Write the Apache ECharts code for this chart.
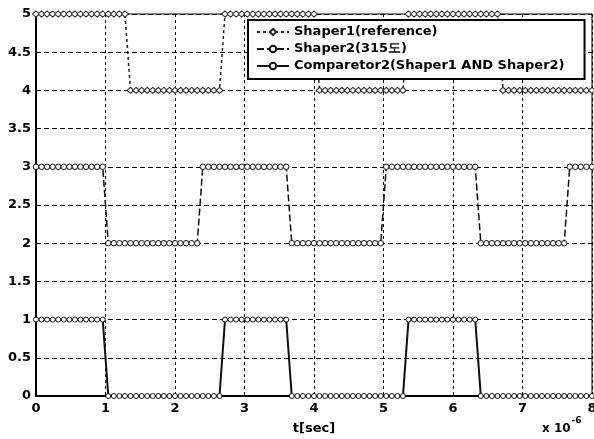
<!DOCTYPE html>
<html>
<head>
<meta charset="utf-8">
<script src="https://cdn.jsdelivr.net/npm/echarts@6/dist/echarts.min.js"></script>
<style>html,body{margin:0;padding:0;background:#fff;}#c{width:594px;height:439px;}</style>
</head>
<body>
<div id="c"></div>
<script>
// sample times (x 10^-6 sec)
const t = [
  0,0.08,0.16,0.24,0.32,0.4,0.48,0.56,0.64,0.72,
  0.8,0.88,0.96,1.04,1.12,1.2,1.28,1.36,1.44,1.52,
  1.6,1.68,1.76,1.84,1.92,2,2.08,2.16,2.24,2.32,
  2.4,2.48,2.56,2.64,2.72,2.8,2.88,2.96,3.04,3.12,
  3.2,3.28,3.36,3.44,3.52,3.6,3.68,3.76,3.84,3.92,
  4,4.08,4.16,4.24,4.32,4.4,4.48,4.56,4.64,4.72,
  4.8,4.88,4.96,5.04,5.12,5.2,5.28,5.36,5.44,5.52,
  5.6,5.68,5.76,5.84,5.92,6,6.08,6.16,6.24,6.32,
  6.4,6.48,6.56,6.64,6.72,6.8,6.88,6.96,7.04,7.12,
  7.2,7.28,7.36,7.44,7.52,7.6,7.68,7.76,7.84,7.92,
  8
];
const shaper1 = [
  5,5,5,5,5,5,5,5,5,5,
  5,5,5,5,5,5,5,4,4,4,
  4,4,4,4,4,4,4,4,4,4,
  4,4,4,4,5,5,5,5,5,5,
  5,5,5,5,5,5,5,5,5,5,
  5,4,4,4,4,4,4,4,4,4,
  4,4,4,4,4,4,4,5,5,5,
  5,5,5,5,5,5,5,5,5,5,
  5,5,5,5,4,4,4,4,4,4,
  4,4,4,4,4,4,4,4,4,4,
  4
];
const shaper2 = [
  3,3,3,3,3,3,3,3,3,3,
  3,3,3,2,2,2,2,2,2,2,
  2,2,2,2,2,2,2,2,2,2,
  3,3,3,3,3,3,3,3,3,3,
  3,3,3,3,3,3,2,2,2,2,
  2,2,2,2,2,2,2,2,2,2,
  2,2,2,3,3,3,3,3,3,3,
  3,3,3,3,3,3,3,3,3,3,
  2,2,2,2,2,2,2,2,2,2,
  2,2,2,2,2,2,3,3,3,3,
  3
];
const comparator2 = [
  1,1,1,1,1,1,1,1,1,1,
  1,1,1,0,0,0,0,0,0,0,
  0,0,0,0,0,0,0,0,0,0,
  0,0,0,0,1,1,1,1,1,1,
  1,1,1,1,1,1,0,0,0,0,
  0,0,0,0,0,0,0,0,0,0,
  0,0,0,0,0,0,0,1,1,1,
  1,1,1,1,1,1,1,1,1,1,
  0,0,0,0,0,0,0,0,0,0,
  0,0,0,0,0,0,0,0,0,0,
  0
];
const seriesNames = ['Shaper1(reference)', 'Shaper2(315도)', 'Comparetor2(Shaper1 AND Shaper2)'];
const xAxisName = 't[sec]';

const pairs = arr => t.map((x, i) => [x, arr[i]]);
const FONT = 'DejaVu Sans';
const chart = echarts.init(document.getElementById('c'), null, {renderer: 'canvas'});
chart.setOption({
  animation: false,
  backgroundColor: '#fff',
  grid: {left: 36, right: 2, top: 14, bottom: 43, show: true, borderColor: '#000', borderWidth: 1,
         containLabel: false, outerBoundsMode: 'none'},
  xAxis: {
    type: 'value', min: 0, max: 8, interval: 1,
    name: xAxisName, nameLocation: 'middle', nameGap: 26,
    nameTextStyle: {fontFamily: FONT, fontWeight: 'bold', fontSize: 13, color: '#000'},
    axisLine: {show: true, onZero: false, lineStyle: {color: '#000', width: 2}},
    axisTick: {show: true, inside: true, length: 4, lineStyle: {color: '#000'}},
    axisLabel: {fontFamily: FONT, fontWeight: 'bold', fontSize: 13, color: '#000', margin: 6},
    splitLine: {show: true, lineStyle: {color: '#000', type: [3, 3], width: 1}}
  },
  yAxis: {
    type: 'value', min: 0, max: 5, interval: 0.5,
    axisLine: {show: true, onZero: false, lineStyle: {color: '#000', width: 2}},
    axisTick: {show: true, inside: true, length: 4, lineStyle: {color: '#000'}},
    axisLabel: {fontFamily: FONT, fontWeight: 'bold', fontSize: 13, color: '#000', margin: 5},
    splitLine: {show: true, lineStyle: {color: '#000', type: [5, 3], width: 1}}
  },
  legend: {
    orient: 'vertical', left: 248, top: 20,
    padding: [4, 20, 5, 8],
    itemGap: 1, itemWidth: 32, itemHeight: 8,
    backgroundColor: '#fff', borderColor: '#000', borderWidth: 2,
    textStyle: {fontFamily: FONT, fontWeight: 'bold', fontSize: 13, color: '#000', lineHeight: 16},
    data: seriesNames
  },
  graphic: [{
    type: 'text', left: 542, top: 416, z: 100,
    style: {
      text: '{a|x 10}{b|-6}',
      rich: {
        a: {fontFamily: FONT, fontWeight: 'bold', fontSize: 12, fill: '#000', padding: [8, 0, 0, 0]},
        b: {fontFamily: FONT, fontWeight: 'bold', fontSize: 9, fill: '#000', padding: [0, 0, 8, 1]}
      }
    }
  }],
  series: [
    {
      name: seriesNames[0], type: 'line', data: pairs(shaper1), clip: false,
      symbol: 'diamond', symbolSize: [7, 6], showAllSymbol: true,
      itemStyle: {color: '#fff', borderColor: '#222', borderWidth: 1},
      lineStyle: {color: '#222', width: 1.5, type: [3, 3]}
    },
    {
      name: seriesNames[1], type: 'line', data: pairs(shaper2), clip: false,
      symbol: 'circle', symbolSize: 5.5, showAllSymbol: true,
      itemStyle: {color: '#fff', borderColor: '#111', borderWidth: 1},
      lineStyle: {color: '#111', width: 1.5, type: [7, 3]}
    },
    {
      name: seriesNames[2], type: 'line', data: pairs(comparator2), clip: false,
      symbol: 'circle', symbolSize: 5, showAllSymbol: true,
      itemStyle: {color: '#fff', borderColor: '#111', borderWidth: 1},
      lineStyle: {color: '#111', width: 2, type: 'solid'}
    }
  ]
});
</script>
</body>
</html>
